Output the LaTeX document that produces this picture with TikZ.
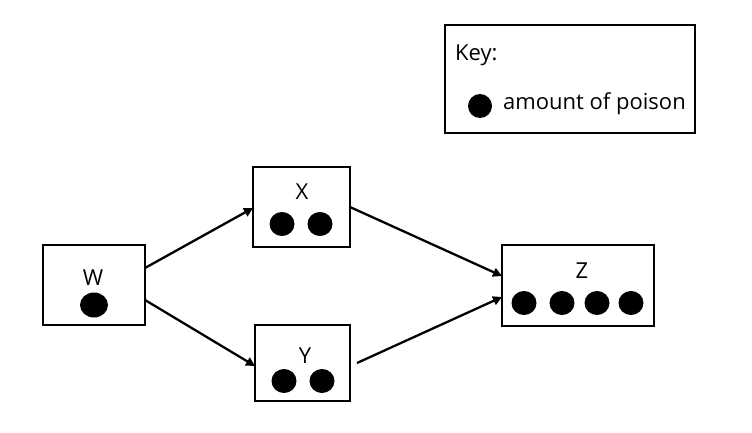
\documentclass[tikz,border=0pt]{standalone}
\usepackage{fontspec}
\setmainfont{Open Sans}
\usetikzlibrary{arrows.meta}
\begin{document}
\begin{tikzpicture}[x=1pt,y=-1pt,
  box/.style={draw=black,line width=2.8pt,fill=white},
  lbl/.style={font=\fontsize{22}{24}\selectfont,inner sep=0pt},
  dot/.style={fill=black,draw=none},
  conn/.style={line width=2.3pt,-{Triangle[length=9pt,width=9pt]}}]
\useasboundingbox (0,0) rectangle (752,433);
% boxes
\draw[box] (43,245) rectangle (145,325);
\node[lbl] (W) at (93,278) {W};
\draw[box] (253,167) rectangle (350,247);
\node[lbl] (X) at (302,192) {X};
\draw[box] (255,325) rectangle (350,401);
\node[lbl] (Y) at (305,356) {Y};
\draw[box] (502,245) rectangle (654,326);
\node[lbl] (Z) at (582,271) {Z};
\draw[box] (445,25) rectangle (695,133);
\node[lbl,anchor=west] (key) at (455,55) {Key:};
\node[lbl,anchor=west] (amt) at (503,104) {amount of poison};
% named anchor coordinates
\coordinate (wa) at (145,268);
\coordinate (wb) at (145,300);
\coordinate (xa) at (253,208);
\coordinate (ya) at (255,366);
\coordinate (xb) at (350,207);
\coordinate (yb) at (357,363);
\coordinate (za) at (502,276);
\coordinate (zb) at (502,297);
% dots
\fill[dot] (94,305) ellipse (14 and 12.5);
\fill[dot] (282,224) ellipse (12.5 and 12);
\fill[dot] (320,224) ellipse (12.5 and 12);
\fill[dot] (284,381) ellipse (12.5 and 12);
\fill[dot] (322,381) ellipse (12.5 and 12);
\fill[dot] (524,303) ellipse (12.5 and 12);
\fill[dot] (562,303) ellipse (12.5 and 12);
\fill[dot] (597,303) ellipse (12.5 and 12);
\fill[dot] (631,303) ellipse (12.5 and 12);
\fill[dot] (480,106) ellipse (12 and 12);
% connectors
\draw[conn] (wa) -- (xa);
\draw[conn] (wb) -- (ya);
\draw[conn] (xb) -- (za);
\draw[conn] (yb) -- (zb);
\end{tikzpicture}
\end{document}
